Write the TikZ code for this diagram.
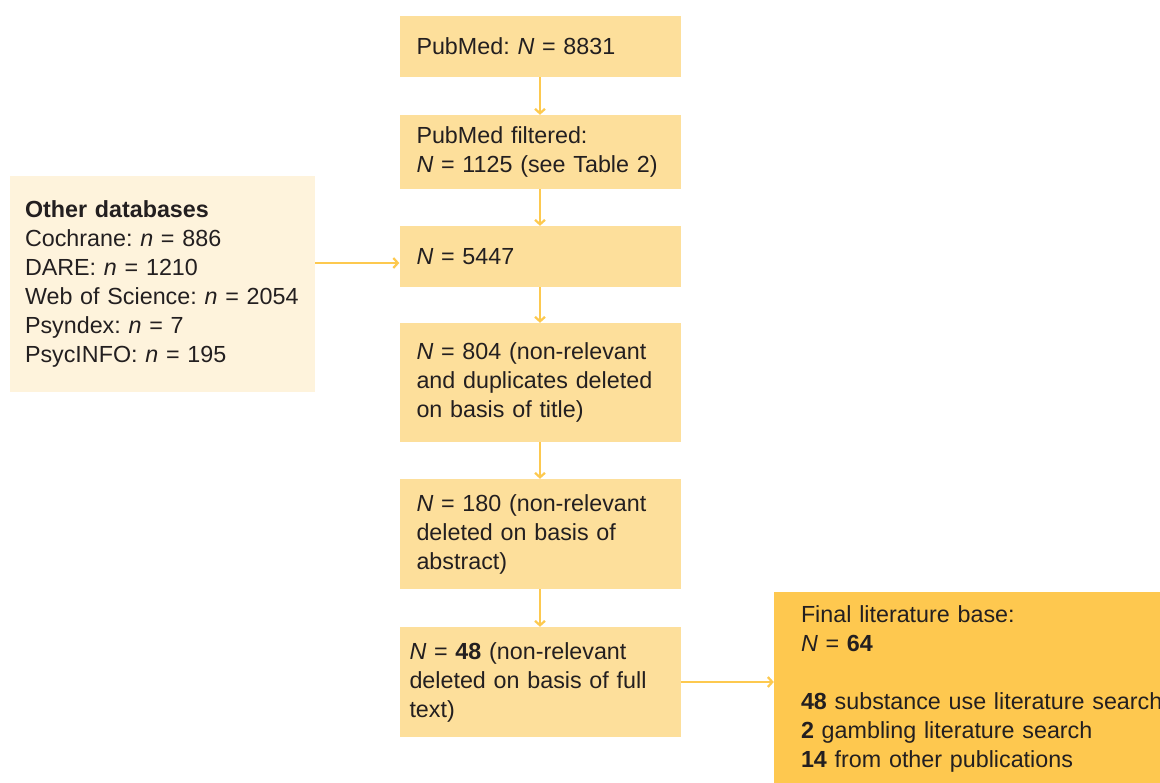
\documentclass[tikz,border=0pt]{standalone}
\usepackage{fontspec}
\setmainfont{Liberation Sans}
\usetikzlibrary{arrows.meta}
\definecolor{boxc}{HTML}{FDDF9B}
\definecolor{lightc}{HTML}{FEF3DC}
\definecolor{finalc}{HTML}{FEC84F}
\definecolor{arrc}{HTML}{FDC94F}
\definecolor{txt}{HTML}{231F20}
\frenchspacing
\begin{document}
\begin{tikzpicture}[x=1pt,y=-1pt,
  every node/.style={font=\fontsize{23.3}{29}\selectfont, text=txt},
  flowbox/.style={fill=boxc, inner ysep=0pt, inner xsep=17pt, text width=247pt, align=left, minimum width=281pt},
  arr/.style={draw=arrc, line width=2.2pt, -{Straight Barb[length=4.5pt,width=10pt]}}]
\clip (0,0) rectangle (1160,783);
\fill[white] (0,0) rectangle (1160,783);
\node[flowbox, minimum height=61pt] (b1) at (540,46.5) {PubMed: \textit{N} = 8831};
\node[flowbox, minimum height=74pt] (b2) at (540,152) {PubMed filtered:\\\textit{N} = 1125 (see Table 2)};
\node[flowbox, minimum height=61pt] (b3) at (540,256.5) {\textit{N} = 5447};
\node[flowbox, minimum height=119pt] (b4) at (540,382.5) {\textit{N} = 804 (non-relevant\\and duplicates deleted\\on basis of title)};
\node[flowbox, minimum height=110pt] (b5) at (540,534) {\textit{N} = 180 (non-relevant\\deleted on basis of\\abstract)};
\node[flowbox, minimum height=110pt, inner xsep=10pt, text width=261pt] (b6) at (540,682) {\textit{N} = \textbf{48} (non-relevant\\deleted on basis of full\\text)};
\node[fill=lightc, inner ysep=0pt, inner xsep=15pt, text width=275pt, align=left, minimum height=216pt] (lb) at (162.5,284)
  {\textbf{Other databases}\\Cochrane: \textit{n} = 886\\DARE: \textit{n} = 1210\\Web of Science: \textit{n} = 2054\\Psyndex: \textit{n} = 7\\PsycINFO: \textit{n} = 195};
\node[fill=finalc, inner ysep=0pt, inner xsep=27pt, text width=422pt, align=left, minimum height=194pt] (fin) at (1012,689)
  {Final literature base:\\\textit{N} = \textbf{64}\\[29pt]\textbf{48} substance use literature search\\\textbf{2} gambling literature search\\\textbf{14} from other publications};
\coordinate (c) at (0,263);
\draw[arr] (b1) -- (b2);
\draw[arr] (b2) -- (b3);
\draw[arr] (b3) -- (b4);
\draw[arr] (b4) -- (b5);
\draw[arr] (b5) -- (b6);
\draw[arr] (lb.east |- c) -- (b3.west |- c);
\draw[arr] (b6.east) -- (fin.west |- b6.east);
\end{tikzpicture}
\end{document}
